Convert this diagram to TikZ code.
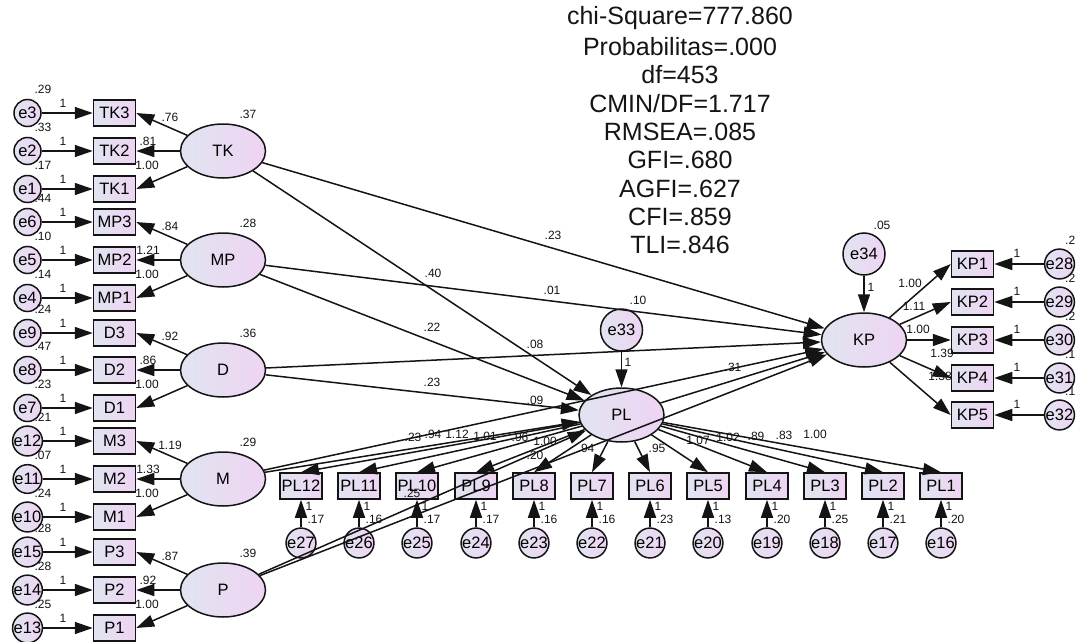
\documentclass[tikz,border=0pt]{standalone}
\usepackage{fontspec}
\setmainfont{Liberation Sans}
\usetikzlibrary{arrows.meta,shapes.geometric}
\definecolor{inkC}{RGB}{20,20,20}
\definecolor{fillL}{RGB}{225,228,240}
\definecolor{fillR}{RGB}{238,212,243}
\newcommand\fsName{\fontsize{16.5}{18}\selectfont}
\newcommand\fsNum{\fontsize{12}{14}\selectfont}
\newcommand\fsStat{\fontsize{25}{29}\selectfont}
\tikzset{
  shadedfill/.style={draw=inkC, line width=1.5pt, left color=fillL, right color=fillR},
  obsbox/.style={shadedfill, rectangle, minimum width=42pt, minimum height=26pt, inner sep=0pt, font=\fsName},
  latent/.style={shadedfill, ellipse, minimum width=85pt, minimum height=54pt, inner sep=0pt, font=\fsName},
  errc/.style={shadedfill, circle, minimum size=27pt, inner sep=0pt, font=\fsName},
  distc/.style={shadedfill, circle, minimum size=42pt, inner sep=0pt, font=\fsName},
  regarrow/.style={draw=inkC, line width=1.5pt, -{Triangle[length=18pt,width=12pt]}},
  numlbl/.style={font=\fsNum, inner sep=0pt, text=inkC},
  statlbl/.style={font=\fsStat, inner sep=0pt, text=inkC},
}
\begin{document}
\begin{tikzpicture}[x=1pt,y=-1pt]
\useasboundingbox (0,0) rectangle (1076,642);

% indicators of the exogenous factors, with their error terms
\foreach \b/\y/\e/\v in {TK3/113/e3/.29, TK2/151/e2/.33, TK1/189/e1/.17,
    MP3/222/e6/.44, MP2/260/e5/.10, MP1/298/e4/.14,
    D3/333/e9/.24, D2/370/e8/.47, D1/408/e7/.23,
    M3/441/e12/.21, M2/479/e11/.07, M1/517/e10/.24,
    P3/552/e15/.28, P2/590/e14/.28, P1/628/e13/.25}{
  \node[obsbox] (\b) at (114.5,\y) {\b};
  \node[errc] (\e) at (27.5,\y) {\e};
  \draw[regarrow] (\e) -- (\b);
  \node[numlbl] (w-\e) at (63,\y-10) {1};
  \node[numlbl] (v-\e) at (43,\y-24) {\v};
}

% exogenous factors and their loadings
\foreach \f/\y/\v/\la/\lb/\lc in {TK/151/.37/.76/.81/1.00, MP/260/.28/.84/1.21/1.00,
    D/370/.36/.92/.86/1.00, M/479/.29/1.19/1.33/1.00, P/590/.39/.87/.92/1.00}{
  \node[latent] (\f) at (223,\y) {\f};
  \draw[regarrow] (\f) -- (\f3.east);
  \draw[regarrow] (\f) -- (\f2.east);
  \draw[regarrow] (\f) -- (\f1.east);
  \node[numlbl] (v-\f) at (248,\y-37) {\v};
  \node[numlbl] (l-\f3) at (170,\y-34) {\la};
  \node[numlbl] (l-\f2) at (148,\y-10) {\lb};
  \node[numlbl] (l-\f1) at (147,\y+14) {\lc};
}

% endogenous factors with their disturbances
\node[latent] (PL) at (621.5,415) {PL};
\node[distc] (e33) at (621.5,330) {e33};
\node[latent] (KP) at (864,340) {KP};
\node[distc] (e34) at (864,254) {e34};
\draw[regarrow] (e33) -- (PL);
\draw[regarrow] (e34) -- (KP);
\node[numlbl] (v-e33) at (638,300) {.10};
\node[numlbl] (w-e33) at (628,362) {1};
\node[numlbl] (v-e34) at (882,225) {.05};
\node[numlbl] (w-e34) at (871,287) {1};

% PL indicators
\foreach \b/\x/\e/\v in {PL12/301/e27/.17, PL11/359/e26/.16, PL10/417/e25/.17,
    PL9/476/e24/.17, PL8/534/e23/.16, PL7/592/e22/.16, PL6/650/e21/.23,
    PL5/708/e20/.13, PL4/767/e19/.20, PL3/825/e18/.25, PL2/883/e17/.21, PL1/941/e16/.20}{
  \node[obsbox] (\b) at (\x,486) {\b};
  \node[errc] (\e) at (\x,543) {\e};
  \draw[regarrow] (\e) -- (\b);
  \draw[regarrow] (PL) -- (\b.north);
  \node[numlbl] (w-\e) at (\x+8,506) {1};
  \node[numlbl] (v-\e) at (\x+15,519) {\v};
}
\foreach \b/\l/\lx/\ly in {PL12/.94/433/434, PL11/1.12/457/434, PL10/1.01/485/436,
    PL9/.96/520/437, PL8/1.00/545/441, PL7/.94/586/448, PL6/.95/657/448,
    PL5/1.07/698/440, PL4/1.02/728/437, PL3/.89/756/436, PL2/.83/784/435, PL1/1.00/815/434}{
  \node[numlbl] (l-\b) at (\lx,\ly) {\l};
}

% KP indicators
\foreach \b/\y/\e/\v/\l/\lx/\ly in {KP1/264/e28/.2/1.00/910/283, KP2/302/e29/.2/1.11/914/306,
    KP3/340/e30/.2/1.00/918/329, KP4/378/e31/.1/1.39/942/353, KP5/415/e32/.1/1.38/940/376}{
  \node[obsbox] (\b) at (972.5,\y) {\b};
  \node[errc] (\e) at (1059.5,\y) {\e};
  \draw[regarrow] (\e) -- (\b);
  \draw[regarrow] (KP) -- (\b.west);
  \node[numlbl] (w-\e) at (1017,\y-11) {1};
  \node[numlbl, anchor=west] (v-\e) at (1065,\y-24) {\v};
  \node[numlbl] (l-\b) at (\lx,\ly) {\l};
}

% structural paths
\foreach \s in {TK, MP, D, M, P}{
  \draw[regarrow] (\s) -- (PL);
  \draw[regarrow] (\s) -- (KP);
}
\draw[regarrow] (PL) -- (KP);

% structural coefficients
\node[numlbl] (c-TK-PL) at (433,273) {.40};
\node[numlbl] (c-MP-PL) at (432,327) {.22};
\node[numlbl] (c-D-PL) at (432,382) {.23};
\node[numlbl] (c-M-PL) at (413,437) {.23};
\node[numlbl] (c-P-PL) at (535,455) {.20};
\node[numlbl] (c-TK-KP) at (553,235) {.23};
\node[numlbl] (c-MP-KP) at (552,290) {.01};
\node[numlbl] (c-D-KP) at (535,344) {.08};
\node[numlbl] (c-M-KP) at (535,400) {.09};
\node[numlbl] (c-P-KP) at (412,493) {.25};
\node[numlbl] (c-PL-KP) at (733,367) {.31};

% fit statistics
\foreach \t [count=\i from 0] in {chi-Square=777.860, Probabilitas=.000, df=453,
    CMIN/DF=1.717, RMSEA=.085, GFI=.680, AGFI=.627, CFI=.859, TLI=.846}{
  \node[statlbl] (fit\i) at (680,18+28.4*\i) {\t};
}
\end{tikzpicture}
\end{document}
